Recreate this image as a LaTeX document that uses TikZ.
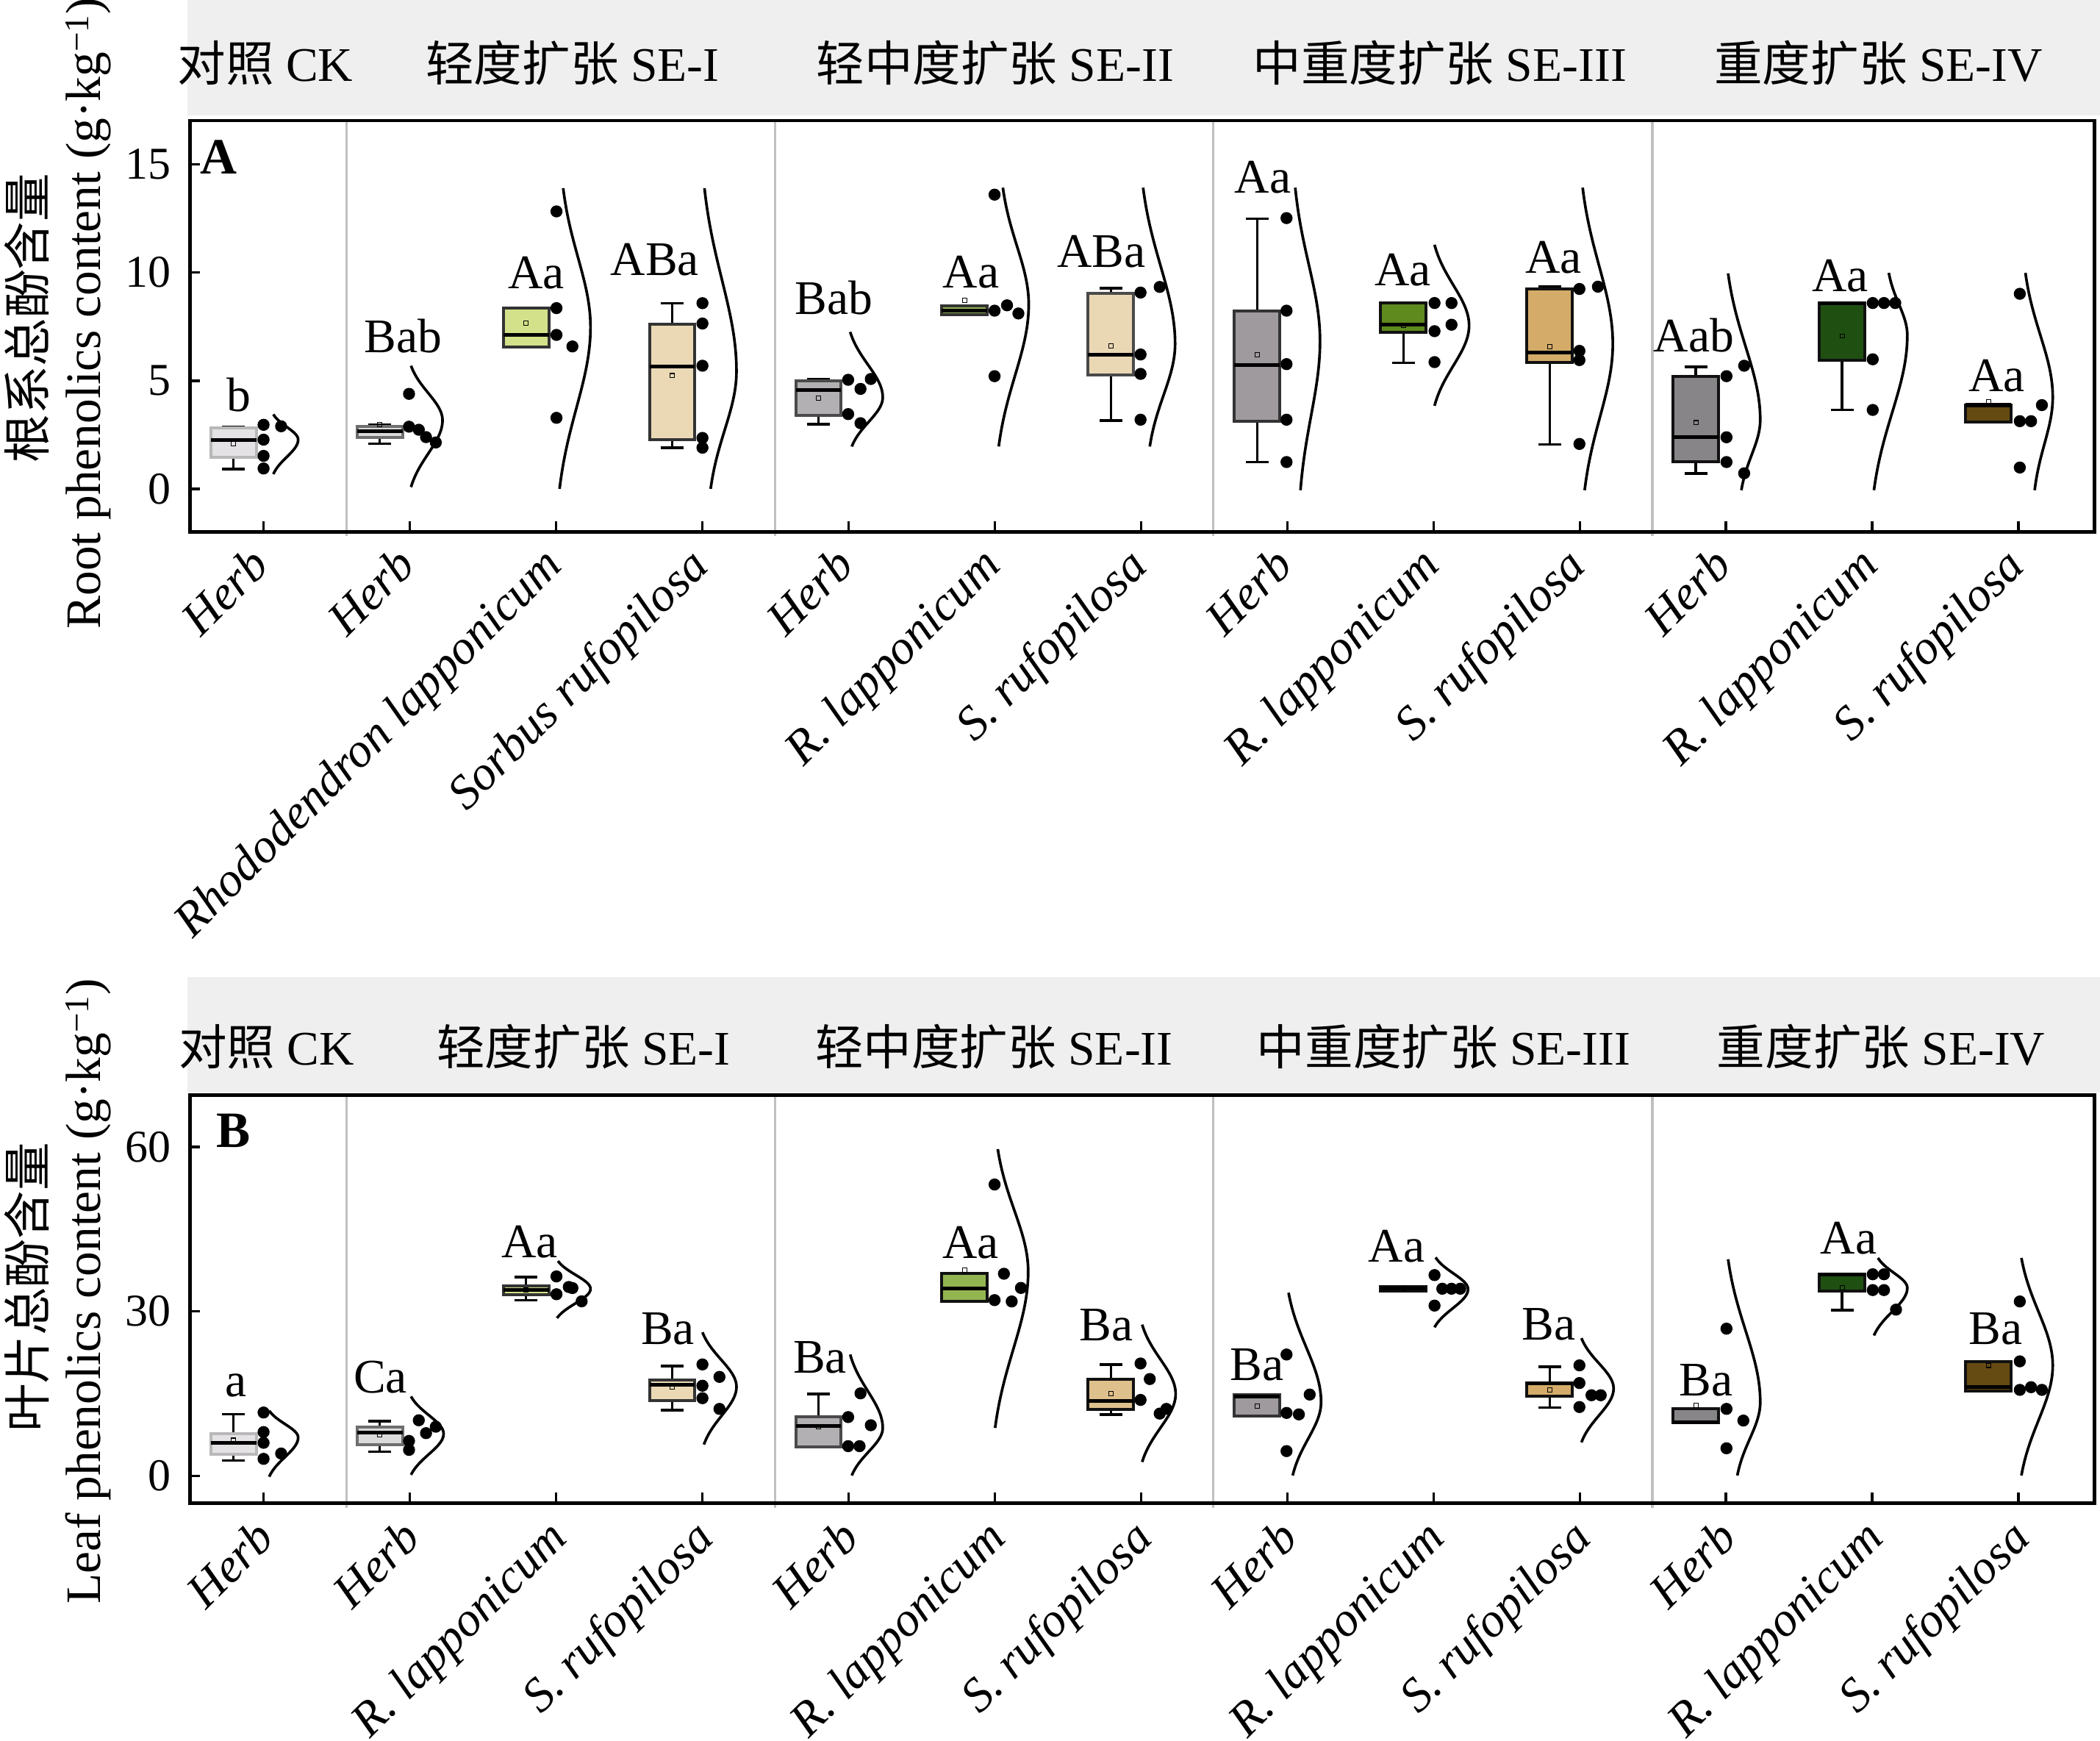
\documentclass[tikz,border=0pt]{standalone}
\usepackage{fontspec}
\setmainfont{Liberation Serif}
\newfontfamily\cjk{Noto Sans CJK SC}
\definecolor{cCK}{HTML}{E4E2E4}\definecolor{bCK}{HTML}{B8B8B8}
\definecolor{cHa}{HTML}{DADADA}\definecolor{bHa}{HTML}{6E6E6E}
\definecolor{cHb}{HTML}{B3B0B3}\definecolor{bHb}{HTML}{4A4A4A}
\definecolor{cHc}{HTML}{9E9A9E}\definecolor{cHd}{HTML}{878587}
\definecolor{cRa}{HTML}{D3E28A}\definecolor{cRb}{HTML}{93B551}
\definecolor{cRc}{HTML}{5E8A1E}\definecolor{cRd}{HTML}{1F5012}
\definecolor{cSa}{HTML}{EBD9B6}\definecolor{cSbA}{HTML}{EAD8B5}
\definecolor{cSb}{HTML}{DEC08C}\definecolor{cSc}{HTML}{D4AB69}
\definecolor{cSd}{HTML}{654B12}
\definecolor{bD}{HTML}{333333}\definecolor{bE}{HTML}{111111}
\definecolor{stripc}{HTML}{EFEFEF}\definecolor{sepc}{HTML}{C0C0C0}
\tikzset{
 frame/.style={line width=2.6pt, line cap=rect},
 tickl/.style={line width=2pt},
 sepl/.style={draw=sepc, line width=1.8pt},
 whisk/.style={line width=2pt},
 boxs/.style={line width=2.2pt},
 medl/.style={line width=2.8pt},
 meanm/.style={line width=0.6pt},
 densl/.style={line width=2pt, line join=round},
 lab/.style={font=\fontsize{36}{40}\selectfont, inner sep=0pt, anchor=base},
 xlab/.style={font=\fontsize{36}{40}\selectfont\itshape, inner sep=0pt, text depth=0pt, anchor=north east, rotate=45},
 ytl/.style={font=\fontsize{34}{38}\selectfont, inner sep=0pt, anchor=east},
 hdr/.style={font=\fontsize{36}{40}\selectfont, inner sep=0pt, anchor=base},
 pl/.style={font=\fontsize{38}{40}\selectfont\bfseries, inner sep=0pt, anchor=base west},
 ytzh/.style={font=\cjk\fontsize{36}{40}\selectfont, inner sep=0pt, rotate=90},
 yten/.style={font=\fontsize{37}{40}\selectfont, inner sep=0pt, rotate=90, anchor=base},
}
% box: cx, top, bottom, median, whisker top, whisker bottom, mean y, fill, border
\newcommand\bp[9]{%
 \draw[whisk] (#1,#5) -- (#1,#6);
 \draw[whisk] ({#1-8.5},#5) -- ({#1+8.5},#5);
 \draw[whisk] ({#1-8.5},#6) -- ({#1+8.5},#6);
 \filldraw[boxs, fill=#8, draw=#9] ({#1-17},#2) rectangle ({#1+17},#3);
 \draw[medl] ({#1-17},#4) -- ({#1+17},#4);
 \draw[meanm] ({#1-1.6},{#7-1.6}) rectangle ({#1+1.6},{#7+1.6});
}
% density outline: x top, y top, x peak, y peak, x bottom, y bottom
\newcommand\dens[6]{%
 \draw[densl] plot[domain=#2:#4, samples=30, variable=\t]
   ({#1+(#3-#1)*(exp(-2*((\t-#4)/(#4-#2))*((\t-#4)/(#4-#2)))-0.13534)/0.86466}, \t)
 -- plot[domain=#4:#6, samples=30, variable=\t]
   ({#5+(#3-#5)*(exp(-2*((\t-#4)/(#6-#4))*((\t-#4)/(#6-#4)))-0.13534)/0.86466}, \t);
}
\begin{document}
\begin{tikzpicture}[x=1pt, y=-1pt]
\useasboundingbox (0,0) rectangle (1568,1299.07);
% header strips
\fill[stripc] (139.8,0) rectangle (1568,86);
\fill[stripc] (139.8,729.3) rectangle (1568,815.6);
% headers A
\node[hdr] (hA0) at (198,60.4) {{\cjk 对照} CK};
\node[hdr] (hA1) at (427.4,60.4) {{\cjk 轻度扩张} SE-I};
\node[hdr] (hA2) at (743,60.4) {{\cjk 轻中度扩张} SE-II};
\node[hdr] (hA3) at (1075,60.4) {{\cjk 中重度扩张} SE-III};
\node[hdr] (hA4) at (1402.5,60.4) {{\cjk 重度扩张} SE-IV};
% headers B
\node[hdr] (hB0) at (198.9,795) {{\cjk 对照} CK};
\node[hdr] (hB1) at (435.7,795) {{\cjk 轻度扩张} SE-I};
\node[hdr] (hB2) at (742.2,795) {{\cjk 轻中度扩张} SE-II};
\node[hdr] (hB3) at (1077.9,795) {{\cjk 中重度扩张} SE-III};
\node[hdr] (hB4) at (1404.5,795) {{\cjk 重度扩张} SE-IV};
% separators
\foreach \s in {258.8,578.6,905.8,1233.8}{
 \draw[sepl] (\s,91) -- (\s,400);
 \draw[sepl] (\s,818.5) -- (\s,1125.5);
}
% frames
\draw[frame] (141.7,90) rectangle (1564,397);
\draw[frame] (141.7,817.5) rectangle (1564,1122.2);
% x ticks
\foreach \tx in {196.8,306.0,415.2,524.4,633.6,742.8,852.0,961.2,1070.4,1179.6,1288.8,1398.0,1507.2}{
 \draw[tickl] (\tx,397) -- (\tx,389);
 \draw[tickl] (\tx,1122.2) -- (\tx,1114.2);
}
% y ticks A
\foreach \v/\yy in {0/364.9,5/284.2,10/203.4,15/122.6}{
 \draw[tickl] (141.7,\yy) -- (149.2,\yy);
 \node[ytl] (yA\v) at (128,\yy) {\v};
}
% y ticks B
\foreach \v/\yy in {0/1101.7,30/978.9,60/856.2}{
 \draw[tickl] (141.7,\yy) -- (149.2,\yy);
 \node[ytl] (yB\v) at (128,\yy) {\v};
}
% panel letters
\node[pl] (pA) at (149.4,130) {A};
\node[pl] (pB) at (161.7,856.2) {B};
% y titles
\node[ytzh] (ytA1) at (20,237.5) {根系总酚含量};
\node[yten] (ytA2) at (75,234) {Root phenolics content (g·kg\textsuperscript{−1})};
\node[ytzh] (ytB1) at (20,961) {叶片总酚含量};
\node[yten] (ytB2) at (75,964) {Leaf phenolics content (g·kg\textsuperscript{−1})};
% ---------- panel A boxes
\bp{174.3}{319.2}{341.3}{328.7}{318.5}{350.0}{331.3}{cCK}{bCK}
\bp{283.5}{318.2}{326.3}{321.9}{317.1}{331.3}{317.1}{cHa}{bHa}
\bp{392.7}{230.2}{259.1}{249.9}{230.2}{259.1}{241.3}{cRa}{bD}
\bp{501.9}{242.1}{328.2}{273.8}{226.3}{334.2}{280.4}{cSa}{bD}
\bp{611.1}{284.4}{310.2}{290.9}{282.9}{316.5}{297.2}{cHb}{bHb}
\bp{720.3}{228.3}{235.0}{231.7}{228.3}{235.0}{224.1}{cRb}{bD}
\bp{829.5}{218.8}{279.7}{265.0}{215.1}{313.8}{258.1}{cSbA}{bHb}
\bp{938.7}{231.9}{314.4}{272.4}{163.2}{344.9}{265.0}{cHc}{bD}
\bp{1047.9}{226.2}{248.2}{242.4}{226.2}{270.9}{243.0}{cRc}{bE}
\bp{1157.1}{215.7}{270.3}{263.0}{214.2}{331.8}{258.7}{cSc}{bE}
\bp{1266.3}{280.8}{344.9}{326.4}{273.9}{353.3}{315.5}{cHd}{bE}
\bp{1375.5}{226.2}{268.8}{226.2}{226.2}{306.0}{250.8}{cRd}{bE}
\bp{1484.7}{302.4}{315.0}{302.4}{302.4}{315.0}{300.1}{cSd}{bE}
% panel A densities
\dens{204.1}{309.3}{222.6}{328.2}{204.1}{353.9}
\dens{306.9}{273.0}{330.4}{313.7}{306.9}{363.6}
\dens{420.5}{140.5}{440.9}{244.2}{417.8}{364.9}
\dens{526.0}{140.5}{549.9}{277.0}{530.6}{364.9}
\dens{634.8}{247.8}{659.1}{296.6}{636.0}{333.3}
\dens{748.8}{140.1}{768.1}{227.2}{745.7}{333.3}
\dens{853.5}{140.1}{877.4}{256.6}{858.5}{333.3}
\dens{967.1}{140.1}{985.6}{254.5}{971.0}{365.9}
\dens{1071.1}{182.7}{1096.9}{243.0}{1071.1}{302.9}
\dens{1181.7}{140.1}{1204.2}{256.6}{1183.2}{365.9}
\dens{1290.3}{204.1}{1314.3}{313.3}{1300.2}{365.9}
\dens{1410.3}{203.7}{1424.1}{250.3}{1399.2}{365.9}
\dens{1512.3}{203.7}{1532.7}{296.5}{1519.2}{365.9}
% panel A points
\foreach \px/\py in {196.8/317.1, 196.8/328.2, 196.8/340.3, 196.8/349.7, 209.9/318.2,
 305.4/294.0, 305.4/318.5, 312.7/320.8, 318.1/326.3, 325.4/330.3,
 415.5/157.8, 415.5/230.0, 415.5/250.0, 427.4/258.6, 415.5/311.9,
 524.5/226.3, 524.5/241.5, 524.5/273.0, 524.5/326.9, 524.5/334.2,
 633.3/283.5, 642.5/290.3, 650.2/282.9, 633.3/309.1, 642.5/315.9,
 742.6/231.9, 751.9/227.9, 760.4/234.0, 742.6/145.3, 742.6/280.8,
 851.6/218.4, 851.6/264.6, 851.6/279.1, 851.6/313.3, 865.9/214.2,
 960.6/162.8, 960.6/231.9, 960.6/271.8, 960.6/313.3, 960.6/344.9,
 1071.1/226.2, 1071.1/247.2, 1071.1/270.3, 1083.8/226.2, 1083.8/242.4,
 1179.3/215.7, 1179.3/261.9, 1179.3/268.8, 1179.3/331.4, 1193.1/214.0,
 1289.1/280.8, 1289.1/326.4, 1289.1/344.9, 1302.3/273.0, 1302.3/353.3,
 1398.3/226.2, 1398.3/268.2, 1398.3/306.0, 1406.7/226.2, 1415.1/226.2,
 1508.1/219.3, 1508.1/314.4, 1508.1/349.0, 1516.5/314.4, 1524.6/302.4}
 {\fill (\px,\py) circle[radius=4.5pt];}
% ---------- panel B boxes
\bp{174.3}{1070.3}{1085.5}{1077.0}{1055.7}{1090.3}{1075.1}{cCK}{bCK}
\bp{283.5}{1065.5}{1078.3}{1069.5}{1061.0}{1083.6}{1071.1}{cHa}{bHa}
\bp{392.7}{959.9}{966.6}{963.1}{953.3}{970.6}{963.0}{cRa}{bD}
\bp{501.9}{1029.9}{1045.6}{1033.6}{1019.8}{1052.5}{1035.2}{cSa}{bD}
\bp{611.1}{1057.8}{1080.1}{1064.3}{1040.5}{1080.1}{1064.9}{cHb}{bHb}
\bp{720.3}{950.8}{971.5}{962.0}{950.8}{971.5}{948.2}{cRb}{bE}
\bp{829.5}{1029.4}{1052.3}{1045.6}{1018.6}{1055.8}{1040.1}{cSb}{bE}
\bp{938.7}{1040.9}{1056.8}{1042.6}{1040.9}{1056.8}{1049.7}{cHc}{bD}
\bp{1047.9}{960.5}{963.5}{962.0}{960.5}{963.5}{962.0}{cRc}{bE}
\bp{1157.1}{1032.4}{1042.2}{1032.4}{1020.2}{1050.7}{1037.5}{cSc}{bE}
\bp{1266.3}{1051.7}{1061.9}{1061.9}{1051.7}{1061.9}{1049.1}{cHd}{bE}
\bp{1375.5}{951.2}{963.8}{951.2}{951.2}{978.0}{961.4}{cRd}{bE}
\bp{1484.7}{1016.2}{1038.1}{1035.5}{1016.2}{1038.1}{1019.2}{cSd}{bE}
% panel B densities
\dens{201.0}{1053.0}{222.6}{1073.0}{201.0}{1102.3}
\dens{306.9}{1042.4}{331.2}{1070.3}{306.9}{1100.9}
\dens{416.6}{941.3}{440.9}{962.1}{415.9}{983.9}
\dens{524.5}{994.5}{549.9}{1035.2}{525.6}{1078.3}
\dens{634.8}{1011.1}{659.1}{1065.9}{636.0}{1101.4}
\dens{745.0}{857.8}{767.7}{949.2}{743.0}{1065.9}
\dens{852.8}{988.8}{877.8}{1040.5}{852.8}{1091.3}
\dens{962.1}{965.0}{986.4}{1046.6}{965.2}{1101.4}
\dens{1071.9}{938.6}{1096.1}{962.4}{1071.1}{990.8}
\dens{1180.8}{998.9}{1204.8}{1036.5}{1180.8}{1076.7}
\dens{1290.3}{940.0}{1314.3}{1046.6}{1297.2}{1101.4}
\dens{1402.2}{939.0}{1424.1}{961.4}{1399.2}{996.9}
\dens{1509.3}{939.0}{1532.7}{1019.2}{1509.3}{1101.4}
% panel B points
\foreach \px/\py in {196.8/1054.4, 196.8/1069.0, 196.8/1077.0, 196.8/1089.0, 209.9/1085.0,
 305.4/1075.6, 305.4/1082.3, 312.7/1060.2, 318.1/1069.8, 325.4/1065.0,
 415.5/952.8, 415.5/966.1, 424.7/960.7, 427.4/961.5, 434.3/971.4,
 524.5/1018.5, 524.5/1034.4, 524.5/1043.7, 537.2/1027.8, 537.2/1051.7,
 633.3/1057.8, 633.3/1079.5, 641.8/1079.5, 642.5/1040.1, 650.2/1063.9,
 742.6/884.2, 742.6/970.5, 749.6/950.8, 755.4/971.5, 762.3/961.4,
 851.6/1017.8, 851.6/1045.0, 858.5/1029.4, 865.9/1055.2, 870.9/1051.7,
 960.6/1011.1, 960.6/1054.7, 960.6/1083.2, 969.8/1055.8, 977.9/1041.0,
 1071.1/951.8, 1071.1/974.6, 1076.9/962.0, 1083.8/962.0, 1090.3/962.0,
 1179.3/1019.2, 1179.3/1032.4, 1179.3/1050.3, 1188.3/1041.5, 1195.2/1041.5,
 1289.1/991.8, 1289.1/1051.7, 1289.1/1081.1, 1301.7/1060.4,
 1398.3/951.2, 1398.3/963.0, 1406.7/951.2, 1406.7/963.0, 1415.7/977.6,
 1508.1/971.5, 1508.1/1016.2, 1508.1/1037.5, 1516.5/1035.5, 1524.6/1037.5}
 {\fill (\px,\py) circle[radius=4.5pt];}
% significance letters A
\foreach \lx/\ly/\lt [count=\i] in {178.1/307.2/b, 300.9/263.3/Bab, 400.3/215.3/Aa, 489.0/205.6/ABa,
 622.5/234.6/Bab, 725.1/214.6/Aa, 822.3/199.5/ABa, 942.9/143.9/Aa, 1047.6/213.0/Aa,
 1160.1/204.1/Aa, 1264.7/262.5/Aab, 1374.0/217.4/Aa, 1491.0/292.3/Aa}
 {\node[lab] (sA\i) at (\lx,\ly) {\lt};}
% significance letters B
\foreach \lx/\ly/\lt [count=\i] in {176.2/1042.4/a, 284.0/1039.7/Ca, 395.5/938.7/Aa, 498.7/1003.3/Ba,
 612.3/1024.9/Ba, 724.6/939.4/Aa, 826.2/1000.5/Ba, 938.5/1030.4/Ba, 1042.8/942.1/Aa,
 1156.5/1000.0/Ba, 1274.0/1042.2/Ba, 1380.3/936.0/Aa, 1490.0/1003.6/Ba}
 {\node[lab] (sB\i) at (\lx,\ly) {\lt};}
% x labels A
\foreach \tx/\tt [count=\i] in {196.8/Herb, 306.0/Herb, 415.2/Rhododendron lapponicum, 524.4/Sorbus rufopilosa,
 633.6/Herb, 742.8/R. lapponicum, 852.0/S. rufopilosa, 961.2/Herb, 1070.4/R. lapponicum, 1179.6/S. rufopilosa,
 1288.8/Herb, 1398.0/R. lapponicum, 1507.2/S. rufopilosa}
 {\node[xlab] (xA\i) at ({\tx-12},406) {\tt};}
% x labels B
\foreach \tx/\tt [count=\i] in {196.8/Herb, 306.0/Herb, 415.2/R. lapponicum, 524.4/S. rufopilosa,
 633.6/Herb, 742.8/R. lapponicum, 852.0/S. rufopilosa, 961.2/Herb, 1070.4/R. lapponicum, 1179.6/S. rufopilosa,
 1288.8/Herb, 1398.0/R. lapponicum, 1507.2/S. rufopilosa}
 {\node[xlab] (xB\i) at ({\tx-8},1132) {\tt};}
\end{tikzpicture}
\end{document}
